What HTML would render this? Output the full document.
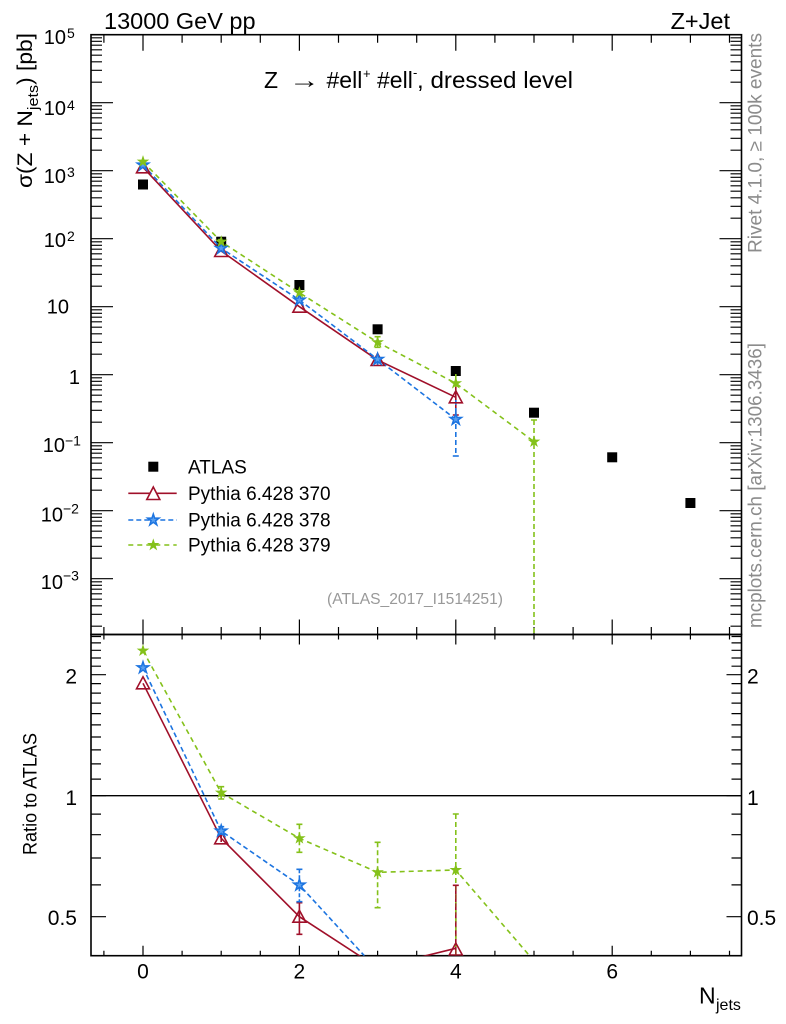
<!DOCTYPE html>
<html><head><meta charset="utf-8">
<style>
html,body{margin:0;padding:0;background:#fff;width:786px;height:1024px;overflow:hidden;}
svg{display:block;}
text{font-family:"Liberation Sans","DejaVu Sans",sans-serif;}
</style></head>
<body>
<svg width="786" height="1024" viewBox="0 0 786 1024" xmlns="http://www.w3.org/2000/svg" overflow="hidden">
<defs>
<clipPath id="cu"><rect x="91" y="34.7" width="650.5" height="599.8"/></clipPath>
<clipPath id="cl"><rect x="91" y="634.5" width="650.5" height="321.2"/></clipPath>
<path id="tri" d="M0,-6.5 L6.5,5.5 L-6.5,5.5 Z" fill="none" stroke="#a0102a" stroke-width="1.6"/>
<path id="bst" d="M0,-6 L1.35,-1.85 L5.71,-1.85 L2.18,0.71 L3.53,4.85 L0,2.29 L-3.53,4.85 L-2.18,0.71 L-5.71,-1.85 L-1.35,-1.85 Z" fill="#5aa0f0" stroke="#1c74e0" stroke-width="1.5"/>
<path id="gst" d="M0,-5 L1.12,-1.55 L4.76,-1.55 L1.82,0.59 L2.94,4.05 L0,1.91 L-2.94,4.05 L-1.82,0.59 L-4.76,-1.55 L-1.12,-1.55 Z" fill="#84c11a" stroke="#84c11a" stroke-width="1"/>
</defs>

<!-- Top labels -->
<text x="104" y="29" font-size="23.5">13000 GeV pp</text>
<text x="730" y="29" font-size="23.5" text-anchor="end">Z+Jet</text>

<!-- Title -->
<text x="264" y="88" font-size="23">Z</text>
<text x="289" y="88" font-size="23" textLength="31" lengthAdjust="spacingAndGlyphs">→</text>
<text x="326.5" y="88" font-size="23">#ell</text>
<text x="363" y="78" font-size="13">+</text>
<text x="377" y="88" font-size="23">#ell</text>
<text x="413" y="77" font-size="13">-</text>
<text x="417" y="88" font-size="23" textLength="156" lengthAdjust="spacingAndGlyphs">, dressed level</text>

<!-- Y axis label upper -->
<text transform="translate(32,110.5) rotate(-90)" font-size="21" text-anchor="middle" textLength="155" lengthAdjust="spacingAndGlyphs">σ(Z + N<tspan font-size="15" dy="6">jets</tspan><tspan dy="-6">) [pb]</tspan></text>

<!-- Right side gray labels -->
<text transform="translate(761.5,143) rotate(-90)" font-size="19" fill="#8c8c8c" text-anchor="middle" textLength="220" lengthAdjust="spacingAndGlyphs">Rivet 4.1.0, ≥ 100k events</text>
<text transform="translate(761.5,485.5) rotate(-90)" font-size="19" fill="#8c8c8c" text-anchor="middle" textLength="285" lengthAdjust="spacingAndGlyphs">mcplots.cern.ch [arXiv:1306.3436]</text>

<!-- analysis label -->
<text x="415" y="604" font-size="15.5" fill="#999" text-anchor="middle" textLength="176" lengthAdjust="spacingAndGlyphs">(ATLAS_2017_I1514251)</text>

<!-- Upper y tick labels -->
<g font-size="20">
<text x="66" y="44" text-anchor="end">10</text><text x="67" y="38" font-size="14">5</text>
<text x="66" y="115" text-anchor="end">10</text><text x="67" y="110" font-size="14">4</text>
<text x="66" y="183" text-anchor="end">10</text><text x="67" y="177" font-size="14">3</text>
<text x="66" y="247" text-anchor="end">10</text><text x="67" y="241" font-size="14">2</text>
<text x="69" y="313.5" text-anchor="end">10</text>
<text x="80" y="384" text-anchor="end">1</text>
<text x="65" y="452" text-anchor="end">10</text><text x="65" y="445.5" font-size="14">−1</text>
<text x="63" y="521.5" text-anchor="end">10</text><text x="63" y="513.5" font-size="14">−2</text>
<text x="63" y="589" text-anchor="end">10</text><text x="63" y="580.5" font-size="14">−3</text>
</g>

<!-- Lower y tick labels -->
<g font-size="21">
<text x="77" y="683.5" text-anchor="end">2</text>
<text x="77" y="805" text-anchor="end">1</text>
<text x="77" y="925" text-anchor="end">0.5</text>
<text x="747" y="683.5">2</text>
<text x="747" y="805">1</text>
<text x="747" y="925">0.5</text>
</g>

<!-- X tick labels -->
<g font-size="21" text-anchor="middle">
<text x="143" y="978.5">0</text>
<text x="299.4" y="978.5">2</text>
<text x="455.8" y="978.5">4</text>
<text x="612.2" y="978.5">6</text>
</g>
<text x="699" y="1003.5" font-size="23">N</text>
<text x="716" y="1010" font-size="16">jets</text>

<!-- Ratio label -->
<text transform="translate(36.5,794) rotate(-90)" font-size="19" text-anchor="middle" textLength="122" lengthAdjust="spacingAndGlyphs">Ratio to ATLAS</text>

<!-- Frames -->
<g fill="none" stroke="#000" stroke-width="1.6">
<rect x="91" y="34.7" width="650.5" height="599.8"/>
<rect x="91" y="634.5" width="650.5" height="321.2"/>
</g>

<!-- Ticks -->
<g stroke="#000" stroke-width="1.2" fill="none">
<path d="M143,34.7v16M299.4,34.7v16M455.8,34.7v16M612.2,34.7v16
M103.9,34.7v8M182.1,34.7v8M221.2,34.7v8M260.3,34.7v8M338.5,34.7v8M377.6,34.7v8M416.7,34.7v8M494.9,34.7v8M534,34.7v8M573.1,34.7v8M651.3,34.7v8M690.4,34.7v8M729.5,34.7v8"/>
<path d="M143,634.5v-15M299.4,634.5v-15M455.8,634.5v-15M612.2,634.5v-15
M103.9,634.5v-7.5M182.1,634.5v-7.5M221.2,634.5v-7.5M260.3,634.5v-7.5M338.5,634.5v-7.5M377.6,634.5v-7.5M416.7,634.5v-7.5M494.9,634.5v-7.5M534,634.5v-7.5M573.1,634.5v-7.5M651.3,634.5v-7.5M690.4,634.5v-7.5M729.5,634.5v-7.5"/>
<path d="M143,634.5v10M299.4,634.5v10M455.8,634.5v10M612.2,634.5v10
M103.9,634.5v5M182.1,634.5v5M221.2,634.5v5M260.3,634.5v5M338.5,634.5v5M377.6,634.5v5M416.7,634.5v5M494.9,634.5v5M534,634.5v5M573.1,634.5v5M651.3,634.5v5M690.4,634.5v5M729.5,634.5v5"/>
<path d="M143,955.7v-10M299.4,955.7v-10M455.8,955.7v-10M612.2,955.7v-10
M103.9,955.7v-5M182.1,955.7v-5M221.2,955.7v-5M260.3,955.7v-5M338.5,955.7v-5M377.6,955.7v-5M416.7,955.7v-5M494.9,955.7v-5M534,955.7v-5M573.1,955.7v-5M651.3,955.7v-5M690.4,955.7v-5M729.5,955.7v-5"/>
<path d="M91,34.7h22M91,102.7h22M91,170.7h22M91,238.7h22M91,306.7h22M91,374.7h22M91,442.7h22M91,510.7h22M91,578.7h22
M741.5,34.7h-22M741.5,102.7h-22M741.5,170.7h-22M741.5,238.7h-22M741.5,306.7h-22M741.5,374.7h-22M741.5,442.7h-22M741.5,510.7h-22M741.5,578.7h-22"/>
<path d="M91,626.2h11M91,614.3h11M91,605.8h11M91,599.2h11M91,593.8h11M91,589.2h11M91,585.3h11M91,581.8h11
M91,558.2h11M91,546.3h11M91,537.8h11M91,531.2h11M91,525.8h11M91,521.2h11M91,517.3h11M91,513.8h11
M91,490.2h11M91,478.3h11M91,469.8h11M91,463.2h11M91,457.8h11M91,453.2h11M91,449.3h11M91,445.8h11
M91,422.2h11M91,410.3h11M91,401.8h11M91,395.2h11M91,389.8h11M91,385.2h11M91,381.3h11M91,377.8h11
M91,354.2h11M91,342.3h11M91,333.8h11M91,327.2h11M91,321.8h11M91,317.2h11M91,313.3h11M91,309.8h11
M91,286.2h11M91,274.3h11M91,265.8h11M91,259.2h11M91,253.8h11M91,249.2h11M91,245.3h11M91,241.8h11
M91,218.2h11M91,206.3h11M91,197.8h11M91,191.2h11M91,185.8h11M91,181.2h11M91,177.3h11M91,173.8h11
M91,150.2h11M91,138.3h11M91,129.8h11M91,123.2h11M91,117.8h11M91,113.2h11M91,109.3h11M91,105.8h11
M91,82.2h11M91,70.3h11M91,61.8h11M91,55.2h11M91,49.8h11M91,45.2h11M91,41.3h11M91,37.8h11"/>
<path d="M741.5,626.2h-11M741.5,614.3h-11M741.5,605.8h-11M741.5,599.2h-11M741.5,593.8h-11M741.5,589.2h-11M741.5,585.3h-11M741.5,581.8h-11
M741.5,558.2h-11M741.5,546.3h-11M741.5,537.8h-11M741.5,531.2h-11M741.5,525.8h-11M741.5,521.2h-11M741.5,517.3h-11M741.5,513.8h-11
M741.5,490.2h-11M741.5,478.3h-11M741.5,469.8h-11M741.5,463.2h-11M741.5,457.8h-11M741.5,453.2h-11M741.5,449.3h-11M741.5,445.8h-11
M741.5,422.2h-11M741.5,410.3h-11M741.5,401.8h-11M741.5,395.2h-11M741.5,389.8h-11M741.5,385.2h-11M741.5,381.3h-11M741.5,377.8h-11
M741.5,354.2h-11M741.5,342.3h-11M741.5,333.8h-11M741.5,327.2h-11M741.5,321.8h-11M741.5,317.2h-11M741.5,313.3h-11M741.5,309.8h-11
M741.5,286.2h-11M741.5,274.3h-11M741.5,265.8h-11M741.5,259.2h-11M741.5,253.8h-11M741.5,249.2h-11M741.5,245.3h-11M741.5,241.8h-11
M741.5,218.2h-11M741.5,206.3h-11M741.5,197.8h-11M741.5,191.2h-11M741.5,185.8h-11M741.5,181.2h-11M741.5,177.3h-11M741.5,173.8h-11
M741.5,150.2h-11M741.5,138.3h-11M741.5,129.8h-11M741.5,123.2h-11M741.5,117.8h-11M741.5,113.2h-11M741.5,109.3h-11M741.5,105.8h-11
M741.5,82.2h-11M741.5,70.3h-11M741.5,61.8h-11M741.5,55.2h-11M741.5,49.8h-11M741.5,45.2h-11M741.5,41.3h-11M741.5,37.8h-11"/>
<path d="M91,674.7h15M91,795.7h15M91,916.7h15M741.5,674.7h-15M741.5,795.7h-15M741.5,916.7h-15"/>
<path d="M91,884.9h10M91,858h10M91,834.7h10M91,814.1h10M91,779.1h10M91,763.9h10M91,749.9h10M91,737h10M91,724.9h10M91,713.6h10M91,703.1h10M91,693.1h10M91,683.6h10M91,666.2h10M91,658h10M91,650.3h10M91,642.9h10M91,636.5h10
M741.5,884.9h-10M741.5,858h-10M741.5,834.7h-10M741.5,814.1h-10M741.5,779.1h-10M741.5,763.9h-10M741.5,749.9h-10M741.5,737h-10M741.5,724.9h-10M741.5,713.6h-10M741.5,703.1h-10M741.5,693.1h-10M741.5,683.6h-10M741.5,666.2h-10M741.5,658h-10M741.5,650.3h-10M741.5,642.9h-10M741.5,636.5h-10"/>
</g>

<line x1="91" y1="795.7" x2="741.5" y2="795.7" stroke="#000" stroke-width="1.3"/>

<!-- UPPER PANEL DATA -->
<g clip-path="url(#cu)">
<g fill="#000">
<rect x="138" y="179.5" width="10" height="10"/>
<rect x="216.2" y="236.7" width="10" height="10"/>
<rect x="294.4" y="280" width="10" height="10"/>
<rect x="372.6" y="324.3" width="10" height="10"/>
<rect x="450.8" y="366" width="10" height="10"/>
<rect x="529" y="407.7" width="10" height="10"/>
<rect x="607.2" y="452.3" width="10" height="10"/>
<rect x="685.4" y="498" width="10" height="10"/>
</g>
<polyline points="143,167.3 221.2,251 299.4,306.7 377.6,360 455.8,397.3" fill="none" stroke="#a0102a" stroke-width="1.6"/>
<path d="M455.8,386V415M452.8,415h6M377.6,355V366" stroke="#a0102a" stroke-width="1.6" fill="none"/>
<polyline points="143,165 221.2,248.3 299.4,300 377.6,359.3 455.8,419.3" fill="none" stroke="#1c74e0" stroke-width="1.6" stroke-dasharray="5,3"/>
<path d="M455.8,400V456M377.6,353V366" stroke="#1c74e0" stroke-width="1.6" stroke-dasharray="5,3" fill="none"/>
<path d="M452.8,456h6" stroke="#1c74e0" stroke-width="1.6"/>
<polyline points="143,161.7 221.2,241.7 299.4,292.7 377.6,342.3 455.8,383.3 534,441.7" fill="none" stroke="#84c11a" stroke-width="1.6" stroke-dasharray="5,4"/>
<path d="M534,420V634M455.8,374V392M377.6,336.7V347.3" stroke="#84c11a" stroke-width="1.6" stroke-dasharray="5,3" fill="none"/>
<path d="M531,420h6M374.6,336.7h6M374.6,347.3h6" stroke="#84c11a" stroke-width="1.6"/>
<use href="#tri" x="143" y="167.3"/>
<use href="#tri" x="221.2" y="251"/>
<use href="#tri" x="299.4" y="306.7"/>
<use href="#tri" x="377.6" y="360"/>
<use href="#tri" x="455.8" y="397.3"/>
<use href="#bst" x="143" y="165"/>
<use href="#bst" x="221.2" y="248.3"/>
<use href="#bst" x="299.4" y="300"/>
<use href="#bst" x="377.6" y="359.3"/>
<use href="#bst" x="455.8" y="419.3"/>
<use href="#gst" x="143" y="161.7"/>
<use href="#gst" x="221.2" y="241.7"/>
<use href="#gst" x="299.4" y="292.7"/>
<use href="#gst" x="377.6" y="342.3"/>
<use href="#gst" x="455.8" y="383.3"/>
<use href="#gst" x="534" y="441.7"/>
</g>

<!-- Legend -->
<rect x="148.3" y="461.7" width="10" height="10" fill="#000"/>
<text x="188" y="473.5" font-size="19">ATLAS</text>
<line x1="128.3" y1="493.3" x2="176.7" y2="493.3" stroke="#a0102a" stroke-width="1.6"/>
<path d="M153.3,487 L159.8,499.5 L146.8,499.5 Z" fill="#fff" stroke="#a0102a" stroke-width="1.6"/>
<text x="188" y="500" font-size="19">Pythia 6.428 370</text>
<line x1="128.3" y1="520" x2="176.7" y2="520" stroke="#1c74e0" stroke-width="1.6" stroke-dasharray="5,3"/>
<use href="#bst" x="153.3" y="520"/>
<text x="188" y="526.5" font-size="19">Pythia 6.428 378</text>
<line x1="128.3" y1="545" x2="176.7" y2="545" stroke="#84c11a" stroke-width="1.6" stroke-dasharray="5,4"/>
<use href="#gst" x="153.3" y="545"/>
<text x="188" y="551.5" font-size="19">Pythia 6.428 379</text>

<!-- LOWER PANEL DATA -->
<g clip-path="url(#cl)">
<polyline points="143,683.3 221.2,838.3 299.4,916.7 377.6,967.6 455.8,948.3" fill="none" stroke="#a0102a" stroke-width="1.6"/>
<path d="M299.4,902.7V934.3M296.4,902.7h6M296.4,934.3h6M455.8,885.3V955.7M452.8,885.3h6M221.2,835V842" stroke="#a0102a" stroke-width="1.6" fill="none"/>
<polyline points="143,667.7 221.2,831 299.4,885 364.3,955.7" fill="none" stroke="#1c74e0" stroke-width="1.6" stroke-dasharray="5,3"/>
<path d="M221.2,826.7V835M299.4,869.3V901.7" stroke="#1c74e0" stroke-width="1.6" stroke-dasharray="4,2" fill="none"/>
<path d="M218.2,826.7h6M296.4,869.3h6M296.4,901.7h6" stroke="#1c74e0" stroke-width="1.6"/>
<polyline points="143,650.7 221.2,792.7 299.4,838.3 377.6,872.3 455.8,870 529.5,955.7" fill="none" stroke="#84c11a" stroke-width="1.6" stroke-dasharray="5,4"/>
<path d="M221.2,786.7V799M299.4,824.3V852.3M377.6,842.3V907.7M455.8,814V955.7" stroke="#84c11a" stroke-width="1.6" stroke-dasharray="5,3" fill="none"/>
<path d="M218.2,786.7h6M218.2,799h6M296.4,824.3h6M296.4,852.3h6M374.6,842.3h6M374.6,907.7h6M452.8,814h6" stroke="#84c11a" stroke-width="1.6"/>
<path d="M455.8,885.3V955.7" stroke="#a0102a" stroke-width="1.2" stroke-dasharray="6,3" fill="none"/>
<use href="#tri" x="143" y="683.3"/>
<use href="#tri" x="221.2" y="838.3"/>
<use href="#tri" x="299.4" y="916.7"/>
<use href="#tri" x="455.8" y="949.5"/>
<use href="#bst" x="143" y="667.7"/>
<use href="#bst" x="221.2" y="831"/>
<use href="#bst" x="299.4" y="885"/>
<use href="#gst" x="143" y="650.7"/>
<use href="#gst" x="221.2" y="792.7"/>
<use href="#gst" x="299.4" y="838.3"/>
<use href="#gst" x="377.6" y="872.3"/>
<use href="#gst" x="455.8" y="870"/>
</g>
</svg>
</body></html>
